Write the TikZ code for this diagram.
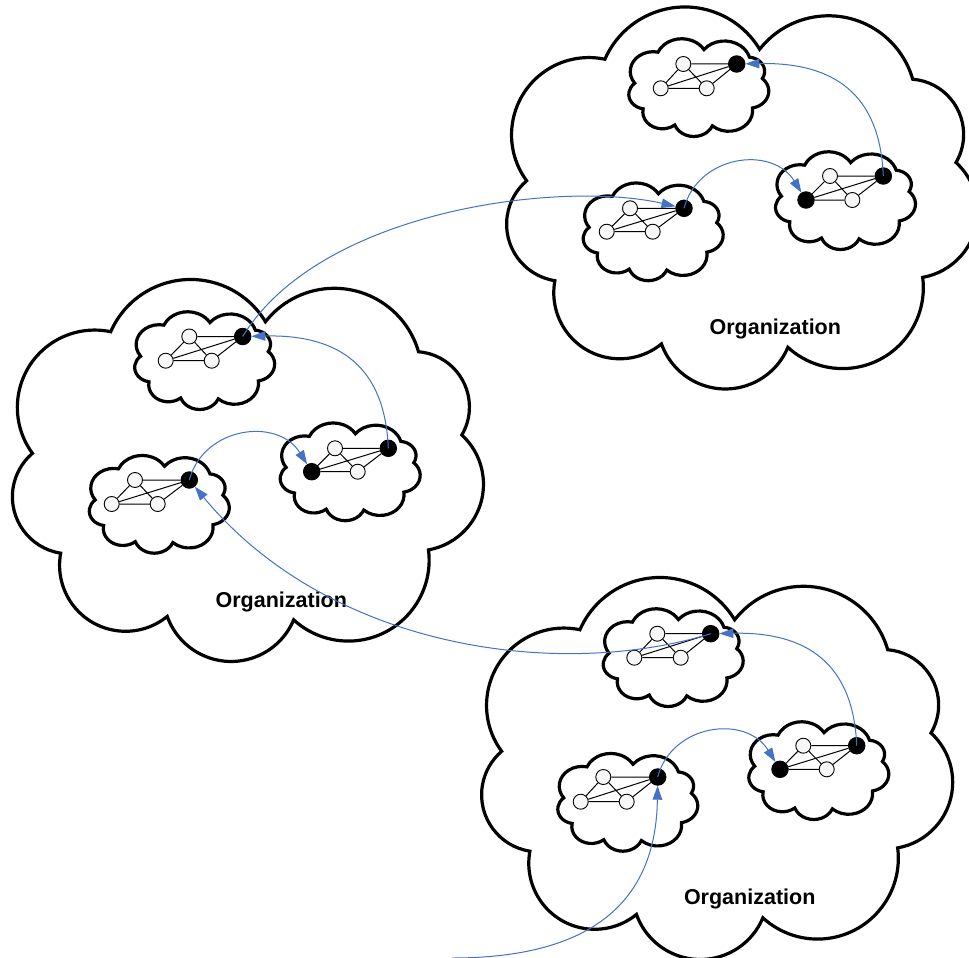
\documentclass[tikz,border=0pt]{standalone}
\usepackage{fontspec}
\setmainfont{Liberation Sans}
\usetikzlibrary{arrows.meta}

\definecolor{linkblue}{RGB}{68,114,196}
\definecolor{nodefill}{RGB}{247,247,247}

% One bump of the cloud outline: the circle through A=(#2,#3), E=(#4,#5), B=(#6,#7)
% (coordinates in units of 100pt, y pointing down) gives an arc style named #1
% that runs clockwise from A to B.
\newcommand\bumpcalc[7]{%
  \pgfmathsetmacro\bcd{2*((#2)*((#5)-(#7))+(#4)*((#7)-(#3))+(#6)*((#3)-(#5)))}%
  \pgfmathsetmacro\bcux{(((#2)^2+(#3)^2)*((#5)-(#7))+((#4)^2+(#5)^2)*((#7)-(#3))+((#6)^2+(#7)^2)*((#3)-(#5)))/(\bcd)}%
  \pgfmathsetmacro\bcuy{(((#2)^2+(#3)^2)*((#6)-(#4))+((#4)^2+(#5)^2)*((#2)-(#6))+((#6)^2+(#7)^2)*((#4)-(#2)))/(\bcd)}%
  \pgfmathsetmacro\bcr{100*veclen((#2)-(\bcux),(#3)-(\bcuy))}%
  \pgfmathsetmacro\bcs{atan2((#3)-(\bcuy),(#2)-(\bcux))}%
  \pgfmathsetmacro\bce{atan2((#7)-(\bcuy),(#6)-(\bcux))}%
  \pgfmathsetmacro\bcdelta{mod((\bce)-(\bcs)+720,360)}%
  \edef\bccmd{\noexpand\tikzset{#1/.style={start angle=\bcs,delta angle=\bcdelta,radius=\bcr}}}%
  \bccmd}

% the nine bumps of a 471.7 x 383.4 cloud, measured from its top-left corner
\bumpcalc{bumpA}{1.000}{0.533}{1.780}{0.010}{2.550}{0.433}
\bumpcalc{bumpB}{2.550}{0.433}{3.300}{0.100}{4.083}{0.733}
\bumpcalc{bumpC}{4.083}{0.733}{4.567}{1.117}{4.517}{1.567}
\bumpcalc{bumpD}{4.517}{1.567}{4.700}{2.270}{4.183}{2.717}
\bumpcalc{bumpE}{4.183}{2.717}{3.820}{3.500}{2.833}{3.417}
\bumpcalc{bumpF}{2.833}{3.417}{2.170}{3.833}{1.567}{3.383}
\bumpcalc{bumpG}{1.567}{3.383}{0.850}{3.460}{0.500}{2.750}
\bumpcalc{bumpH}{0.500}{2.750}{0.020}{2.250}{0.217}{1.750}
\bumpcalc{bumpI}{0.217}{1.750}{0.190}{0.870}{1.000}{0.533}

\tikzset{
  cloudline/.style={draw=black,line width=3.2pt,fill=white,line join=miter},
  wnode/.style={circle,draw=black,line width=0.9pt,fill=nodefill,minimum size=15pt,inner sep=0pt},
  bnode/.style={circle,draw=black,line width=0.9pt,fill=black,minimum size=16.5pt,inner sep=0pt},
  netedge/.style={draw=black,line width=1pt},
  link/.style={draw=linkblue,line width=1pt,-{Triangle[length=14pt,width=9.5pt]}},
  orglabel/.style={font=\bfseries\fontsize{21.5}{24}\selectfont,anchor=base,inner sep=0pt}
}

% cloud centred at (#2,#3), #4 wide and #5 high
\newcommand\cloudshape[5][]{%
  \pgfmathsetmacro\cldsx{#4/471.7}%
  \pgfmathsetmacro\cldsy{#5/383.4}%
  \begin{scope}[shift={(#2,#3)},xscale=\cldsx,yscale=\cldsy]
    \draw[cloudline,#1] (-135.8,-138.4)
      arc[bumpA] arc[bumpB] arc[bumpC] arc[bumpD] arc[bumpE]
      arc[bumpF] arc[bumpG] arc[bumpH] arc[bumpI] -- cycle;
  \end{scope}}

% four-node network: upper row at y=#3 (a, d), lower row at y=#4 (b, c)
\newcommand\network[8][wnode]{%
  \node[wnode] (#2a) at (#5,#3) {};
  \node[#1]    (#2b) at (#6,#4) {};
  \node[wnode] (#2c) at (#7,#4) {};
  \node[bnode] (#2d) at (#8,#3) {};
  \draw[netedge] (#2a) -- (#2d) (#2a) -- (#2c) (#2a) -- (#2b)
                 (#2b) -- (#2c) (#2b) -- (#2d) (#2c) -- (#2d);}

\begin{document}
\begin{tikzpicture}[x=1pt,y=-1pt]
\fill[white] (0,0) rectangle (969,958);
\useasboundingbox (0,0) rectangle (969,958);

% organizations
\cloudshape{246.3}{470}{471}{383}
\cloudshape{740.5}{197.5}{471}{383}
\cloudshape{715.5}{768}{471}{383}

% groups inside the organizations
\cloudshape{204.2}{360.5}{140}{98}
\cloudshape{349.7}{471.7}{140}{98}
\cloudshape{158.8}{504.2}{140}{98}
\cloudshape{698.3}{87.5}{140}{98}
\cloudshape{652.7}{231.7}{140}{98}
\cloudshape{845}{200.5}{140}{98}
\cloudshape{672.7}{657.5}{140}{98}
\cloudshape{627.3}{802.2}{140}{98}
\cloudshape{818.3}{770.5}{140}{98}

% networks of the groups
\network{A1}{336.5}{360.7}{189.3}{165.7}{211.7}{242.7}
\network[bnode]{A2}{448.3}{471.7}{335}{311.7}{357.7}{388.3}
\network{A3}{480}{504}{135}{111.7}{157.7}{189.3}
\network{B1}{64}{88.3}{683.3}{660.7}{706.7}{736.7}
\network{B2}{208.3}{231.7}{630}{606.7}{652.7}{684}
\network[bnode]{B3}{176}{200}{830}{806}{852.3}{883.3}
\network{C1}{633.7}{657.7}{657.3}{634.3}{680.7}{710.7}
\network{C2}{777}{801.7}{603.3}{580.7}{626.7}{657.7}
\network[bnode]{C3}{745.7}{769.3}{803.3}{780}{826.7}{856.7}

% labels
\node[orglabel] (orgA) at (281.3,607) {Organization};
\node[orglabel] (orgB) at (775.3,334.5) {Organization};
\node[orglabel] (orgC) at (749.7,904.5) {Organization};

% links between gateway nodes
\coordinate (entry) at (452,958);
\draw[link] (A1d.center) .. controls (320,210) and (560,180) .. (B2d);
\draw[link] (B2d.center) .. controls (698,155) and (772,145) .. (B3b);
\draw[link] (B3d.center) .. controls (880,95) and (835,62) .. (B1d);
\draw[link] (A3d.center) .. controls (203.5,426.7) and (277.5,416.7) .. (A2b);
\draw[link] (A2d.center) .. controls (385,367.3) and (340,334.3) .. (A1d);
\draw[link] (C2d.center) .. controls (671.7,724) and (745.7,714) .. (C3b);
\draw[link] (C3d.center) .. controls (853.4,664.7) and (808.4,631.7) .. (C1d);
\draw[link] (C1d.center) .. controls (560,680) and (330,650) .. (A3d);
\draw[link] (entry) .. controls (600,958) and (656,895) .. (C2d);
\end{tikzpicture}
\end{document}
